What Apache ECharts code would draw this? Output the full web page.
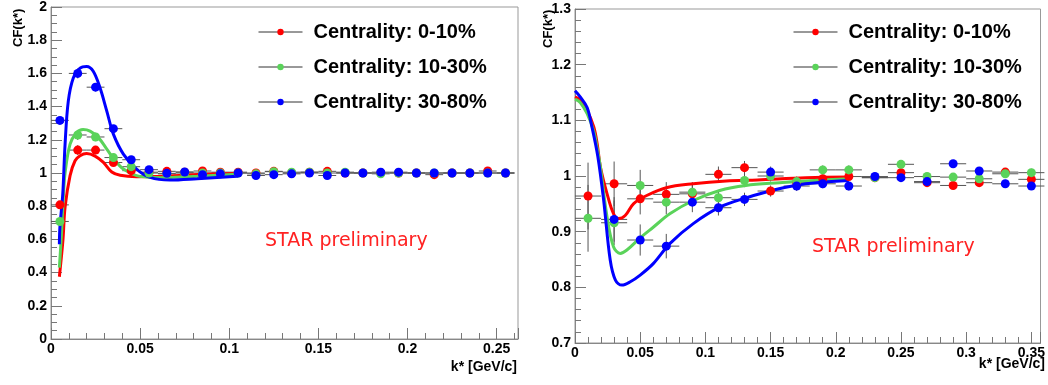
<!DOCTYPE html>
<html>
<head>
<meta charset="utf-8">
<script src="https://cdn.jsdelivr.net/npm/echarts@6/dist/echarts.min.js"></script>
<style>
  html, body { margin: 0; padding: 0; background: #fff; }
  #chart { width: 1048px; height: 385px; }
</style>
</head>
<body>
<div id="chart"></div>
<script>
// legend names and colours
const names = ['Centrality: 0-10%', 'Centrality: 10-30%', 'Centrality: 30-80%'];
const colors = ['#ff0000', '#5ad35a', '#0000ff'];

// left panel: bin centres, CF values, errors
const kLeft = [0.005, 0.015, 0.025, 0.035, 0.045, 0.055, 0.065, 0.075, 0.085, 0.095,
  0.105, 0.115, 0.125, 0.135, 0.145, 0.155, 0.165, 0.175, 0.185, 0.195,
  0.205, 0.215, 0.225, 0.235, 0.245, 0.255];
const cfLeft010 = [0.808, 1.138, 1.138, 1.063, 1.014, 1.005, 1.01, 1.005, 1.012, 1.005,
  1.005, 1.0, 1.01, 1.0, 1.005, 1.01, 1.0, 1.0, 1.0, 1.0,
  1.0, 0.99, 1.0, 1.0, 1.012, 1.0];
const cfLeft1030 = [0.708, 1.229, 1.217, 1.093, 1.038, 1.0, 0.995, 1.0, 1.0, 1.0,
  1.0, 0.995, 1.008, 1.005, 1.005, 1.0, 1.005, 1.0, 0.995, 1.0,
  1.0, 1.0, 1.0, 1.0, 1.0, 1.0];
const cfLeft3080 = [1.317, 1.6, 1.517, 1.267, 1.08, 1.02, 0.998, 1.006, 0.99, 0.995,
  1.0, 0.985, 0.99, 0.995, 1.0, 0.985, 1.0, 1.0, 1.005, 1.005,
  1.0, 1.0, 1.0, 1.0, 1.0, 1.0];
const errLeft = [0.02, 0.03, 0.025, 0.02, 0.015, 0.012, 0.01, 0.008, 0.008, 0.007,
  0.007, 0.006, 0.006, 0.006, 0.006, 0.006, 0.006, 0.006, 0.006, 0.006,
  0.006, 0.006, 0.006, 0.006, 0.006, 0.006];

// left panel fit curves [k*, CF]
const fitLeft010 = [[0.0047, 0.375], [0.0067, 0.595], [0.0079, 0.794], [0.0107, 0.984], [0.0135, 1.074],
  [0.0163, 1.104], [0.02, 1.117], [0.0247, 1.102], [0.0294, 1.064], [0.0341, 1.006],
  [0.0388, 0.986], [0.048, 0.978], [0.063, 0.98], [0.08, 0.99], [0.105, 0.997]];
const fitLeft1030 = [[0.0047, 0.43], [0.0058, 0.62], [0.0069, 0.85], [0.0079, 1.0], [0.0107, 1.174],
  [0.0143, 1.243], [0.018, 1.262], [0.0219, 1.252], [0.0266, 1.213], [0.0313, 1.144],
  [0.036, 1.074], [0.0406, 1.024], [0.048, 0.984], [0.056, 0.974], [0.065, 0.972],
  [0.082, 0.98], [0.105, 0.993]];
const fitLeft3080 = [[0.0047, 0.571], [0.005, 0.674], [0.0066, 0.874], [0.0079, 1.174], [0.0097, 1.433],
  [0.0125, 1.573], [0.0163, 1.632], [0.02, 1.642], [0.0237, 1.613], [0.0275, 1.513],
  [0.0313, 1.373], [0.035, 1.234], [0.0406, 1.114], [0.048, 1.024], [0.0556, 0.974],
  [0.0667, 0.958], [0.082, 0.966], [0.1, 0.978], [0.105, 0.98]];

// right panel
const kRight = [0.01, 0.03, 0.05, 0.07, 0.09, 0.11, 0.13, 0.15, 0.17,
  0.19, 0.21, 0.23, 0.25, 0.27, 0.29, 0.31, 0.33, 0.35];
const cfRight010 = [0.964, 0.986, 0.959, 0.967, 0.968, 1.003, 1.015, 0.973, 0.988,
  0.995, 0.999, 0.997, 1.006, 0.988, 0.983, 0.988, 1.007, 0.994];
const cfRight1030 = [0.924, 0.916, 0.983, 0.953, 0.971, 0.961, 0.992, 1.0, 0.99,
  1.011, 1.011, 0.997, 1.021, 0.999, 0.998, 0.995, 1.004, 1.006];
const cfRight3080 = [null, 0.922, 0.885, 0.874, 0.953, 0.943, 0.958, 1.007, 0.982,
  0.986, 0.982, 0.999, 0.997, 0.99, 1.022, 1.009, 0.986, 0.982];
const errRight = [0.06, 0.04, 0.028, 0.022, 0.018, 0.014, 0.012, 0.01, 0.009,
  0.008, 0.008, 0.007, 0.007, 0.007, 0.007, 0.007, 0.007, 0.007];

const fitRight010 = [[0, 1.142], [0.004, 1.136], [0.0093, 1.118], [0.0144, 1.088], [0.017, 1.058],
  [0.0195, 1.016], [0.0246, 0.968], [0.0296, 0.932], [0.0335, 0.9235], [0.0385, 0.929],
  [0.045, 0.9505], [0.055, 0.965], [0.07, 0.979], [0.0907, 0.986], [0.116, 0.991],
  [0.14, 0.993], [0.177, 0.997], [0.21, 0.998]];
const fitRight1030 = [[0, 1.138], [0.004, 1.132], [0.0093, 1.112], [0.0144, 1.08], [0.017, 1.05],
  [0.0195, 1.016], [0.0246, 0.926], [0.0296, 0.8725], [0.0347, 0.861], [0.0398, 0.867],
  [0.05, 0.889], [0.06, 0.908], [0.073, 0.9325], [0.0907, 0.956], [0.111, 0.974],
  [0.131, 0.983], [0.157, 0.988], [0.177, 0.991], [0.21, 0.995]];
const fitRight3080 = [[0, 1.153], [0.004, 1.142], [0.0093, 1.123], [0.013, 1.088], [0.0175, 1.035],
  [0.022, 0.956], [0.027, 0.849], [0.031, 0.813], [0.036, 0.804], [0.0424, 0.81],
  [0.05, 0.822], [0.0602, 0.843], [0.0729, 0.879], [0.0907, 0.9145], [0.111, 0.944],
  [0.131, 0.9605], [0.154, 0.9756], [0.177, 0.986], [0.21, 0.992]];

const binHalfLeft = 0.005;
const binHalfRight = 0.01;

const chart = echarts.init(document.getElementById('chart'));

const labelFont = { color: '#000', fontWeight: 'bold', fontSize: 14, fontFamily: 'Liberation Sans, Arial, sans-serif' };
const axisGray = '#888';

function makeXAxis(gridIndex, max) {
  return {
    type: 'value', gridIndex, min: 0, max, interval: 0.05,
    axisLine: { show: true, onZero: false, lineStyle: { color: axisGray, width: 1 } },
    axisTick: { show: true, inside: true, length: 11, lineStyle: { color: '#777' } },
    minorTick: { show: true, splitNumber: 5, length: 6, lineStyle: { color: '#777' } },
    splitLine: { show: false },
    axisLabel: Object.assign({ margin: 3, showMaxLabel: false }, labelFont)
  };
}
function makeYAxis(gridIndex, min, max, interval, minorSplit) {
  return {
    type: 'value', gridIndex, min, max, interval,
    axisLine: { show: true, onZero: false, lineStyle: { color: axisGray, width: 1 } },
    axisTick: { show: true, inside: true, length: 11, lineStyle: { color: '#777' } },
    minorTick: { show: true, splitNumber: minorSplit, length: 6, lineStyle: { color: '#777' } },
    splitLine: { show: false },
    axisLabel: Object.assign({ margin: 4 }, labelFont)
  };
}

function errorSeries(panel, k, vals, errs, half) {
  const data = [];
  k.forEach((x, i) => { if (vals[i] != null) data.push([x, vals[i], errs[i], half]); });
  return {
    type: 'custom', xAxisIndex: panel, yAxisIndex: panel, z: 2, silent: true,
    data,
    renderItem: (params, api) => {
      const x = api.value(0), y = api.value(1), ey = api.value(2), ex = api.value(3);
      const c = api.coord([x, y]);
      const l = api.coord([x - ex, y]), r = api.coord([x + ex, y]);
      const t = api.coord([x, y + ey]), b = api.coord([x, y - ey]);
      const st = { stroke: '#555', lineWidth: 1 };
      return {
        type: 'group', children: [
          { type: 'line', shape: { x1: l[0], y1: c[1], x2: r[0], y2: c[1] }, style: st },
          { type: 'line', shape: { x1: c[0], y1: t[1], x2: c[0], y2: b[1] }, style: st }
        ]
      };
    }
  };
}
function fitSeries(panel, pts, color, name) {
  return {
    name, type: 'line', xAxisIndex: panel, yAxisIndex: panel, z: 3,
    data: pts, showSymbol: false, smooth: 0.35, silent: true,
    lineStyle: { color, width: 3 }
  };
}
function pointSeries(panel, k, vals, color, name) {
  const data = [];
  k.forEach((x, i) => { if (vals[i] != null) data.push([x, vals[i]]); });
  return {
    name, type: 'line', xAxisIndex: panel, yAxisIndex: panel, z: 4,
    data, symbol: 'circle', symbolSize: 9, showSymbol: true,
    itemStyle: { color }, lineStyle: { width: 0, color }
  };
}

const leftVals = [cfLeft010, cfLeft1030, cfLeft3080];
const leftFits = [fitLeft010, fitLeft1030, fitLeft3080];
const rightVals = [cfRight010, cfRight1030, cfRight3080];
const rightFits = [fitRight010, fitRight1030, fitRight3080];

const series = [];
[0, 1, 2].forEach(i => {
  series.push(errorSeries(0, kLeft, leftVals[i], errLeft, binHalfLeft));
  series.push(errorSeries(1, kRight, rightVals[i], errRight, binHalfRight));
});
[0, 1, 2].forEach(i => {
  series.push(fitSeries(0, leftFits[i], colors[i], 'fit L ' + i));
  series.push(fitSeries(1, rightFits[i], colors[i], 'fit R ' + i));
});
[0, 1, 2].forEach(i => {
  series.push(pointSeries(0, kLeft, leftVals[i], colors[i], names[i]));
  series.push(pointSeries(1, kRight, rightVals[i], colors[i], names[i]));
});

function makeLegend(left) {
  return {
    data: names, left, top: 22, orient: 'vertical', padding: 0,
    itemWidth: 44, itemHeight: 8, itemGap: 15, selectedMode: false,
    lineStyle: { color: '#333', width: 1, opacity: 1 },
    textStyle: { color: '#000', fontWeight: 'bold', fontSize: 20, fontFamily: 'Liberation Sans, Arial, sans-serif', padding: [0, 0, 0, 6] }
  };
}

const titleFont = 'bold 13px "Liberation Sans", Arial, sans-serif';
const starFont = '19px "DejaVu Sans", sans-serif';

chart.setOption({
  animation: false,
  backgroundColor: '#fff',
  grid: [
    { left: 51, top: 5, width: 467, height: 334, show: true, borderColor: '#999', borderWidth: 1 },
    { left: 575, top: 9, width: 467, height: 334, show: true, borderColor: '#999', borderWidth: 1 }
  ],
  xAxis: [makeXAxis(0, 0.262), makeXAxis(1, 0.357)],
  yAxis: [makeYAxis(0, 0, 2, 0.2, 4), makeYAxis(1, 0.7, 1.3, 0.1, 5)],
  legend: [makeLegend(258), makeLegend(793)],
  graphic: [
    { type: 'text', x: 18, y: 47, rotation: Math.PI / 2, style: { text: 'CF(k*)', font: titleFont, fill: '#000', align: 'left', verticalAlign: 'middle' } },
    { type: 'text', x: 548, y: 48, rotation: Math.PI / 2, style: { text: 'CF(k*)', font: titleFont, fill: '#000', align: 'left', verticalAlign: 'middle' } },
    { type: 'text', x: 517, y: 367, style: { text: 'k* [GeV/c]', font: 'bold 14px "Liberation Sans", Arial, sans-serif', fill: '#000', align: 'right', verticalAlign: 'middle' } },
    { type: 'text', x: 1045, y: 364, style: { text: 'k* [GeV/c]', font: 'bold 14px "Liberation Sans", Arial, sans-serif', fill: '#000', align: 'right', verticalAlign: 'middle' } },
    { type: 'text', x: 265, y: 241, style: { text: 'STAR preliminary', font: starFont, fill: '#f22', align: 'left', verticalAlign: 'middle' } },
    { type: 'text', x: 812, y: 247, style: { text: 'STAR preliminary', font: starFont, fill: '#f22', align: 'left', verticalAlign: 'middle' } }
  ],
  series
});
</script>
</body>
</html>
